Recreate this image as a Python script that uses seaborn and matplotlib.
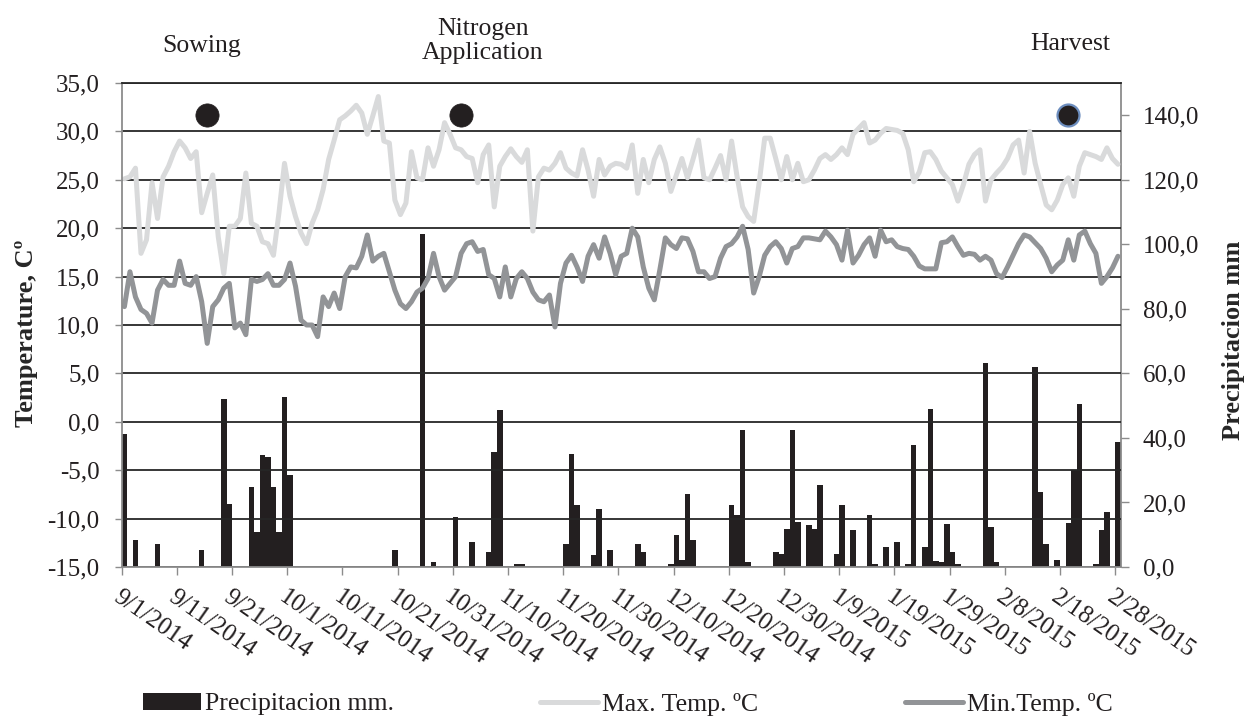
import pandas as pd
import seaborn as sns
import matplotlib.pyplot as plt
from matplotlib.lines import Line2D
from matplotlib.patches import Patch

start_date = "2014-09-01"

max_temp = [
    25.1, 25.3, 26.2, 17.4, 18.8, 24.7, 21.0, 25.3, 26.4, 27.9,
    29.0, 28.3, 27.2, 27.9, 21.6, 23.6, 25.5, 19.1, 15.3, 20.2,
    20.2, 21.0, 25.7, 20.5, 20.2, 18.6, 18.4, 17.2, 21.6, 26.7,
    23.3, 21.2, 19.5, 18.4, 20.5, 21.9, 24.0, 27.1, 29.1, 31.2,
    31.6, 32.1, 32.7, 31.9, 29.7, 31.6, 33.6, 29.0, 28.8, 22.9,
    21.4, 22.6, 27.9, 25.2, 25.0, 28.3, 26.4, 28.1, 30.9, 29.7,
    28.3, 28.1, 27.4, 27.2, 24.7, 27.6, 28.6, 22.2, 26.4, 27.4,
    28.2, 27.4, 26.8, 28.1, 19.7, 25.3, 26.2, 26.0, 26.7, 27.8,
    26.2, 25.7, 25.4, 28.1, 26.0, 23.3, 27.1, 25.5, 26.4, 26.7,
    26.6, 26.2, 28.6, 23.6, 27.1, 24.7, 27.1, 28.4, 26.7, 23.8,
    25.5, 27.2, 25.2, 27.1, 29.1, 25.2, 25.0, 26.2, 27.5, 25.0,
    29.0, 25.3, 22.2, 21.2, 20.7, 24.7, 29.3, 29.3, 27.2, 25.0,
    27.4, 25.0, 26.7, 24.8, 25.0, 26.0, 27.2, 27.6, 27.1, 27.6,
    28.3, 27.6, 29.7, 30.3, 30.9, 28.8, 29.1, 29.8, 30.3, 30.2,
    30.1, 29.8, 28.1, 24.8, 25.8, 27.8, 27.9, 27.1, 25.9, 25.2,
    24.5, 22.8, 24.5, 26.6, 27.6, 28.1, 22.8, 25.0, 25.7, 26.3,
    27.2, 28.6, 29.1, 25.7, 30.0, 26.7, 24.5, 22.4, 21.9, 22.9,
    24.5, 25.2, 23.3, 26.4, 27.8, 27.6, 27.4, 27.1, 28.3, 27.2,
    26.6,
]

min_temp = [
    11.9, 15.5, 12.9, 11.6, 11.2, 10.2, 13.6, 14.7, 14.1, 14.1,
    16.6, 14.3, 14.1, 15.0, 12.4, 8.1, 11.9, 12.6, 13.8, 14.3,
    9.7, 10.2, 9.0, 14.7, 14.5, 14.7, 15.3, 14.1, 14.1, 14.7,
    16.4, 14.0, 10.5, 10.0, 10.0, 8.8, 12.9, 11.9, 13.3, 11.7,
    15.0, 16.0, 15.9, 17.1, 19.3, 16.6, 17.1, 17.4, 15.5, 13.6,
    12.2, 11.7, 12.4, 13.4, 13.8, 14.8, 17.4, 15.0, 13.6, 14.3,
    15.0, 17.4, 18.4, 18.6, 17.6, 17.8, 15.2, 14.8, 12.9, 16.0,
    12.9, 14.8, 15.5, 14.8, 13.4, 12.6, 12.4, 13.1, 9.8, 14.3,
    16.4, 17.2, 16.0, 14.5, 17.1, 18.3, 16.9, 19.1, 17.4, 15.2,
    17.1, 17.4, 20.0, 19.1, 16.0, 13.8, 12.6, 15.7, 19.0, 18.3,
    17.9, 19.0, 18.9, 17.6, 15.5, 15.5, 14.8, 15.0, 16.9, 18.1,
    18.4, 19.1, 20.2, 17.8, 13.3, 15.0, 17.2, 18.1, 18.6, 17.9,
    16.4, 17.9, 18.1, 19.0, 19.0, 18.9, 18.8, 19.7, 19.1, 18.3,
    16.7, 19.8, 16.4, 17.2, 18.3, 19.0, 17.1, 19.8, 18.6, 18.8,
    18.1, 17.9, 17.8, 17.1, 16.1, 15.8, 15.8, 15.8, 18.5, 18.6,
    19.1, 18.1, 17.2, 17.4, 17.3, 16.7, 17.1, 16.7, 15.3, 14.9,
    16.0, 17.2, 18.4, 19.3, 19.1, 18.5, 17.9, 16.9, 15.5, 16.2,
    16.7, 18.8, 16.7, 19.3, 19.7, 18.4, 17.4, 14.3, 15.0, 15.9,
    17.1,
]

# days (counted from 9/1/2014) with rain, and the amount
rain_day = [
    0, 2, 6, 14, 18, 19, 23, 24, 25, 26, 27, 28, 29, 30,
    49, 54, 56, 60, 63, 66, 67, 68, 71, 72,
    80, 81, 82, 85, 86, 88, 93, 94, 99, 100, 101, 102, 103,
    110, 111, 112, 113, 118, 119, 120, 121, 122, 124, 125, 126, 129, 130,
    132, 135, 136, 138, 140, 142, 143,
    145, 146, 147, 148, 149, 150, 151, 156, 157, 158, 165, 166, 167, 169,
    171, 172, 173, 176, 177, 178, 180,
]
rain_mm = [
    41.3, 8.3, 7.2, 5.2, 52.2, 19.6, 24.8, 10.8, 34.6, 34.1, 24.8, 10.8, 52.7, 28.4,
    5.2, 103.3, 1.5, 15.5, 7.7, 4.6, 35.6, 48.6, 1.0, 1.0,
    7.2, 35.1, 19.1, 3.6, 18.1, 5.2, 7.2, 4.6, 1.0, 9.8, 2.1, 22.7, 8.3,
    19.1, 16.0, 42.4, 1.5, 4.6, 4.1, 11.9, 42.4, 13.9, 12.9, 11.9, 25.3, 4.1, 19.1,
    11.4, 16.0, 1.0, 6.2, 7.7, 1.0, 37.7,
    6.2, 49.1, 1.9, 1.5, 13.4, 4.6, 1.0, 63.2, 12.4, 1.5, 62.0, 23.2, 7.2, 2.1,
    13.6, 30.0, 50.6, 1.0, 11.4, 17.0, 38.7,
]

event_day = [15, 61, 171]
event_temp = [31.7, 31.7, 31.7]
event_names = ["Sowing", "Nitrogen\nApplication", "Harvest"]

date_labels = [
    "9/1/2014", "9/11/2014", "9/21/2014", "10/1/2014", "10/11/2014",
    "10/21/2014", "10/31/2014", "11/10/2014", "11/20/2014", "11/30/2014",
    "12/10/2014", "12/20/2014", "12/30/2014", "1/9/2015", "1/19/2015",
    "1/29/2015", "2/8/2015", "2/18/2015", "2/28/2015",
]
temp_ticks = [-15, -10, -5, 0, 5, 10, 15, 20, 25, 30, 35]
temp_tick_labels = ["-15,0", "-10,0", "-5,0", "0,0", "5,0", "10,0",
                    "15,0", "20,0", "25,0", "30,0", "35,0"]
rain_ticks = [0, 20, 40, 60, 80, 100, 120, 140]
rain_tick_labels = ["0,0", "20,0", "40,0", "60,0", "80,0", "100,0", "120,0", "140,0"]

bar_color = "#231f20"
max_color = "#d9dadb"
min_color = "#929497"
grid_color = "#262626"
axis_color = "#8c8c8c"
text_color = "#231f20"

sns.set_style("ticks")
plt.rcParams["font.family"] = ["Liberation Serif", "DejaVu Serif"]
plt.rcParams["text.color"] = text_color

df = pd.DataFrame({
    "date": pd.date_range(start_date, periods=len(max_temp), freq="D"),
    "max_temp": max_temp,
    "min_temp": min_temp,
})
df["day"] = range(len(df))
rain = pd.DataFrame({"day": rain_day, "mm": rain_mm})

fig = plt.figure(figsize=(12.44, 7.16), dpi=100)
ax = fig.add_axes([0.0978, 0.2081, 0.8031, 0.676])
ax2 = ax.twinx()

# rain bars on the right axis, kept behind the temperature lines
sns.barplot(data=rain, x="day", y="mm", native_scale=True, color=bar_color,
            saturation=1, width=1.0, linewidth=0, errorbar=None, ax=ax2)
ax.set_zorder(ax2.get_zorder() + 1)
ax.patch.set_visible(False)

sns.lineplot(data=df, x="day", y="max_temp", color=max_color, linewidth=3.6,
             solid_joinstyle="round", solid_capstyle="round", ax=ax)
sns.lineplot(data=df, x="day", y="min_temp", color=min_color, linewidth=3.6,
             solid_joinstyle="round", solid_capstyle="round", ax=ax)

sns.scatterplot(x=event_day[:2], y=event_temp[:2], s=280, color=bar_color,
                edgecolor=bar_color, linewidth=0.5, ax=ax, zorder=5)
sns.scatterplot(x=event_day[2:], y=event_temp[2:], s=250, color=bar_color,
                edgecolor="#6d8ebf", linewidth=1.6, ax=ax, zorder=5)

ax.set_xlim(-0.5, len(df) - 0.5)
ax.set_ylim(-15, 35)
ax2.set_ylim(0, 150)

ax.set_xticks([i * 10 - 0.5 for i in range(len(date_labels))])
ax.set_xticklabels(date_labels, rotation=-35, ha="left", va="top",
                   rotation_mode="anchor", fontsize=18)
ax.set_yticks(temp_ticks)
ax.set_yticklabels(temp_tick_labels, fontsize=18)
ax2.set_yticks(rain_ticks)
ax2.set_yticklabels(rain_tick_labels, fontsize=18)

ax.yaxis.grid(True, color=grid_color, linewidth=1.3)
ax.xaxis.grid(False)
ax.set_axisbelow(True)

ax.tick_params(axis="y", direction="out", length=5, width=1, color=axis_color,
               pad=11, labelcolor=text_color)
ax.tick_params(axis="x", direction="out", length=6, width=1, color=axis_color,
               pad=8, labelcolor=text_color)
ax2.tick_params(axis="y", direction="out", length=6, width=1, color=axis_color,
                pad=10, labelcolor=text_color)

for side in ["left", "bottom"]:
    ax.spines[side].set_color(axis_color)
    ax.spines[side].set_linewidth(1.3)
ax.spines["right"].set_visible(False)
ax.spines["top"].set_color(grid_color)
ax.spines["top"].set_linewidth(1.3)
for side in ["left", "bottom", "top"]:
    ax2.spines[side].set_visible(False)
ax2.spines["right"].set_color(axis_color)
ax2.spines["right"].set_linewidth(1.3)

ax.set_xlabel("")
ax2.set_xlabel("")
ax.set_ylabel("Temperature, Cº", fontsize=19, fontweight="bold")
ax.yaxis.set_label_coords(-0.084, 0.483)
ax2.set_ylabel("Precipitacion mm", fontsize=19, fontweight="bold")
ax2.yaxis.set_label_coords(1.1014, 0.469)

# event names above the plot
fig.text(202 / 1244, 1 - 52 / 716, event_names[0], ha="center", va="baseline", fontsize=18.5)
fig.text(483 / 1244, 1 - 59 / 716, event_names[1], ha="center", va="baseline",
         fontsize=18.5, linespacing=1.12)
fig.text(1070 / 1244, 1 - 50 / 716, event_names[2], ha="center", va="baseline", fontsize=18.5)

handles = [
    Patch(facecolor=bar_color, edgecolor="none"),
    Line2D([], [], color=max_color, linewidth=3.6),
    Line2D([], [], color=min_color, linewidth=3.6),
]
labels = ["Precipitacion mm.", "Max. Temp. ºC", "Min.Temp. ºC"]
for h, lab, x0 in zip(handles, labels, [143, 540, 905]):
    fig.legend(handles=[h], labels=[lab], loc="center left",
               bbox_to_anchor=(x0 / 1244, 1 - 704 / 716), frameon=False,
               fontsize=18.5, handlelength=2.25, handletextpad=0.15,
               borderpad=0, borderaxespad=0)

fig.savefig("out.png", dpi=100)
